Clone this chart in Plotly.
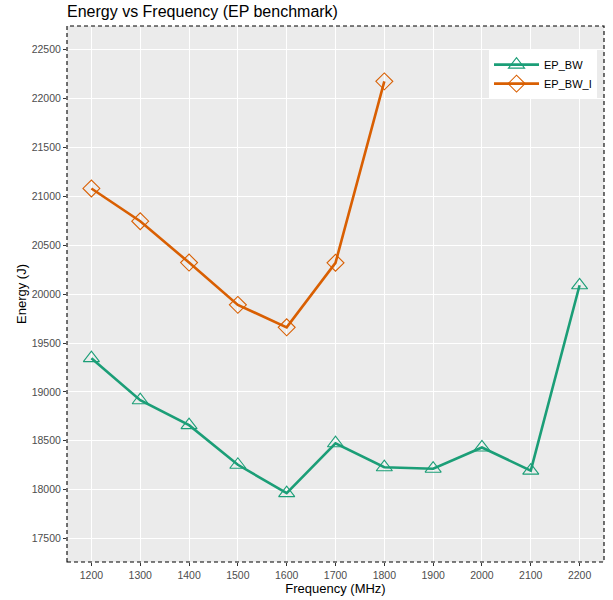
import plotly.graph_objects as go

freq = [1200, 1300, 1400, 1500, 1600, 1700, 1800, 1900, 2000, 2100, 2200]
ep_bw = [19345, 18915, 18660, 18255, 17965, 18475, 18230, 18215, 18432, 18195, 20090]
freq_i = [1200, 1300, 1400, 1500, 1600, 1700, 1800]
ep_bw_i = [21080, 20745, 20322, 19890, 19660, 20320, 22175]

x_ticks = [1200, 1300, 1400, 1500, 1600, 1700, 1800, 1900, 2000, 2100, 2200]
y_ticks = [17500, 18000, 18500, 19000, 19500, 20000, 20500, 21000, 21500, 22000, 22500]

FONT = "Liberation Sans, Arial, Helvetica, sans-serif"
GREEN = "#1B9E77"
ORANGE = "#D95F02"

fig = go.Figure()
fig.add_trace(go.Scatter(
    x=freq, y=ep_bw, mode="lines+markers", name="EP_BW",
    line=dict(color=GREEN, width=2.6),
    marker=dict(symbol="triangle-up-open", size=14, color=GREEN, line=dict(width=1.1, color=GREEN)),
))
fig.add_trace(go.Scatter(
    x=freq_i, y=ep_bw_i, mode="lines+markers", name="EP_BW_I",
    line=dict(color=ORANGE, width=2.6),
    marker=dict(symbol="diamond-open", size=13, color=ORANGE, line=dict(width=1.1, color=ORANGE)),
))

axis_common = dict(
    showgrid=True, gridcolor="white", gridwidth=1.2,
    zeroline=False, showline=False,
    ticks="outside", ticklen=3, tickwidth=1, tickcolor="#333333",
    tickfont=dict(family=FONT, size=10.5, color="#4D4D4D"),
)

fig.update_layout(
    width=613, height=600,
    paper_bgcolor="white", plot_bgcolor="#EBEBEB",
    margin=dict(l=67, r=9, t=26, b=38),
    title=dict(text="Energy vs Frequency (EP benchmark)", x=67/613, xanchor="left",
               y=1 - 11/600, yanchor="middle",
               font=dict(family=FONT, size=16, color="black")),
    xaxis=dict(range=[1150, 2250], tickvals=x_ticks, ticktext=[str(v) for v in x_ticks],
               title=dict(text="Frequency (MHz)", standoff=3,
                          font=dict(family=FONT, size=13, color="black")),
               automargin=False, **axis_common),
    yaxis=dict(range=[17261, 22741], tickvals=y_ticks, ticktext=[str(v) for v in y_ticks],
               title=dict(text="Energy (J)", standoff=2,
                          font=dict(family=FONT, size=13, color="black")),
               automargin=False, **axis_common),
    legend=dict(x=0.987, xanchor="right", y=0.955, yanchor="top",
                bgcolor="white", borderwidth=0,
                font=dict(family=FONT, size=11, color="black"),
                itemwidth=45, tracegroupgap=4),
    shapes=[dict(type="rect", xref="paper", yref="paper", x0=0, x1=1, y0=0, y1=1,
                 line=dict(color="black", width=1.1, dash="4px,3px"), layer="above")],
)

fig.write_html("out.html", config={"displayModeBar": False},
               post_script="document.body.style.margin='0';")
